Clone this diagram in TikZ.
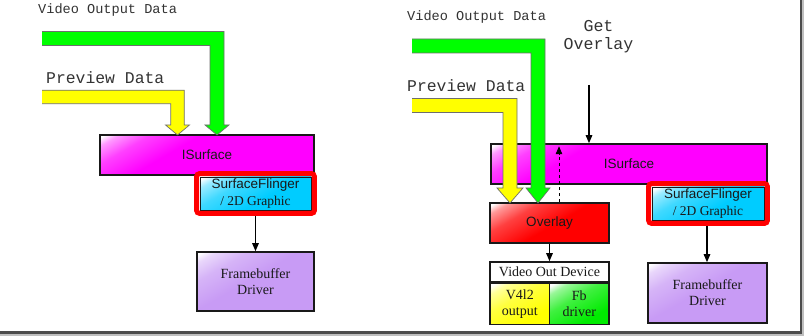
\documentclass[tikz,border=0pt]{standalone}
\usepackage{fontspec}
\setmainfont{Liberation Serif}
\setsansfont{Liberation Sans}
\setmonofont{Liberation Mono}
\usetikzlibrary{arrows.meta,calc}

% box fill colours
\definecolor{cMag}{RGB}{255,0,255}
\definecolor{cCyan}{RGB}{0,204,255}
\definecolor{cLav}{RGB}{200,155,245}
\definecolor{cRed}{RGB}{255,0,0}
\definecolor{cYel}{RGB}{255,255,0}
\definecolor{cGrn}{RGB}{0,235,0}
\definecolor{cFatG}{RGB}{0,255,0}
\definecolor{cFatY}{RGB}{255,255,0}
\definecolor{cEdge}{RGB}{110,110,110}

% glossy fills: white at the upper-left corner fading into the solid colour
% (the shading square is 600pt wide, so 1bp of the shading spans 12pt)
\newcommand\declgloss[2]{%
  \colorlet{gc#1}{#2}%
  \pgfdeclareverticalshading{gloss#1}{100bp}{color(0bp)=(#2); color(45.8bp)=(#2);
    color(47.9bp)=(#2!75!white); color(49.2bp)=(#2!40!white); color(49.8bp)=(white); color(100bp)=(white)}}
\declgloss{mag}{cMag}
\declgloss{cyan}{cCyan}
\declgloss{lav}{cLav}
\declgloss{red}{cRed}
\declgloss{yel}{cYel}
\declgloss{grn}{cGrn}

% paints the gloss inside a node, anchored at its upper-left corner
\newcommand\glosspaint[1]{%
  \begin{scope}[transform canvas={rotate around={30:(path picture bounding box.north west)}}]
    \shade[shading=gloss#1] ($(path picture bounding box.north west)+(-300,-300)$)
      rectangle ($(path picture bounding box.north west)+(300,300)$);
  \end{scope}}

% thick bent data arrow: colour, start x, band y, shaft x, tip y, half width, head half width, head length
\newcommand\fatarrow[8]{%
  \filldraw[fill=#1, draw=cEdge, line width=0.7pt, line join=miter]
    (#2,{#3-#6}) -- ({#4+#6},{#3-#6}) -- ({#4+#6},{#5-#8}) -- ({#4+#7},{#5-#8})
    -- (#4,#5) -- ({#4-#7},{#5-#8}) -- ({#4-#6},{#5-#8}) -- ({#4-#6},{#3+#6})
    -- (#2,{#3+#6});}

\tikzset{
  box/.style={draw=black!90, line width=1.6pt, inner sep=0pt, align=center, text=black!90},
  glossbox/.style={box, fill=gc#1, path picture={\glosspaint{#1}}},
  sflabel/.style={font=\fontsize{13.5}{17}\selectfont},
  serifl/.style={font=\rmfamily\fontsize{14}{16}\selectfont},
  sansl/.style={font=\sffamily\fontsize{13.5}{16}\selectfont},
  monos/.style={font=\ttfamily\fontsize{13.6}{16}\selectfont, inner sep=0pt, text=black!80, anchor=west},
  monob/.style={font=\ttfamily\fontsize{16.4}{18}\selectfont, inner sep=0pt, text=black!80},
  redframe/.style={draw=cRed, line width=5pt, rounded corners=3pt},
  link/.style={draw=black, line width=1.3pt, -{Triangle[length=8pt,width=6.5pt]}},
}

\begin{document}
\begin{tikzpicture}[x=1pt, y=-1pt]
  \useasboundingbox (0,0) rectangle (804,336);
  \fill[white] (0,0) rectangle (804,336);

  % ---------------- left: software path ----------------
  \node[glossbox=mag, sansl, minimum width=214pt, minimum height=40pt] (isL) at (207,155) {ISurface};
  \node[glossbox=cyan, sflabel, line width=0.8pt, minimum width=111pt, minimum height=33pt] (sfL) at (255.5,193.5)
    {{\sffamily SurfaceFlinger}\\{\rmfamily / 2D Graphic}};
  \draw[redframe] ($(sfL.north west)+(-3,-3)$) rectangle ($(sfL.south east)+(3,3)$);
  \coordinate (sfLout) at ($(sfL.south)+(0,5.5)$);
  \node[glossbox=lav, serifl, minimum width=117pt, minimum height=59pt] (fbL) at (255.5,281.5) {Framebuffer\\Driver};
  \draw[link] (sfLout) -- (sfLout |- fbL.north);

  \node[monos] (vodL) at (38,10) {Video Output Data};
  \node[monob, anchor=west] (pdL) at (46,78) {Preview Data};
  \fatarrow{cFatG}{42}{38.5}{217}{135}{7}{12}{10}
  \fatarrow{cFatY}{42}{97}{177.5}{135}{6.75}{12}{10}

  % ---------------- right: overlay path ----------------
  \node[glossbox=mag, sansl, minimum width=276pt, minimum height=40pt] (isR) at (629,164) {ISurface};
  \node[glossbox=red, sansl, minimum width=119pt, minimum height=40pt] (ovl) at (549.5,223) {Overlay};

  % video out device with its two drivers
  \node[box, fill=white, serifl, minimum width=119pt, minimum height=20pt] (vdev) at (549.5,272) {Video Out Device};
  \node[glossbox=yel, serifl, anchor=north west, minimum width=59.5pt, minimum height=41pt] (v4l) at (vdev.south west) {V4l2\\output};
  \node[glossbox=grn, serifl, anchor=north east, minimum width=59.5pt, minimum height=41pt] (fbdrv) at (vdev.south east) {Fb\\driver};

  \node[glossbox=cyan, sflabel, line width=0.8pt, minimum width=112pt, minimum height=33pt] (sfR) at (708,203.5)
    {{\sffamily SurfaceFlinger}\\{\rmfamily / 2D Graphic}};
  \draw[redframe] ($(sfR.north west)+(-3,-3)$) rectangle ($(sfR.south east)+(3,3)$);
  \coordinate (sfRout) at ($(sfR.south)+(-1,5.5)$);
  \node[glossbox=lav, serifl, minimum width=119pt, minimum height=60pt] (fbR) at (707.5,293) {Framebuffer\\Driver};

  \node[monos] (vodR) at (407,17) {Video Output Data};
  \node[monob, anchor=west] (pdR) at (407,86) {Preview Data};
  \node[monob, align=center, font=\ttfamily\fontsize{16.6}{18}\selectfont] (gov) at (598.5,37) {Get\\Overlay};

  \fatarrow{cFatY}{412}{105.5}{510}{203}{7}{13}{15}
  \fatarrow{cFatG}{412}{46}{538}{203}{7}{12}{15}

  % control links
  \coordinate (goStart) at (589,85);
  \draw[link] (goStart) -- (goStart |- isR.north);
  \coordinate (dashX) at (559,0);
  \draw[link, dashed, line width=1pt, shorten >=3pt] (ovl.north -| dashX) -- (isR.north -| dashX);
  \draw[link] (ovl.south -| vdev.north) -- (vdev.north);
  \draw[link] (sfRout) -- (sfRout |- fbR.north);

  % page edge shadow
  \fill[black!25] (0,334) rectangle (804,336);
  \fill[black!25] (802,0) rectangle (804,336);
  \fill[black!70] (0,331.5) rectangle (802,334);
  \fill[black!70] (800,0) rectangle (802,334);
\end{tikzpicture}
\end{document}
